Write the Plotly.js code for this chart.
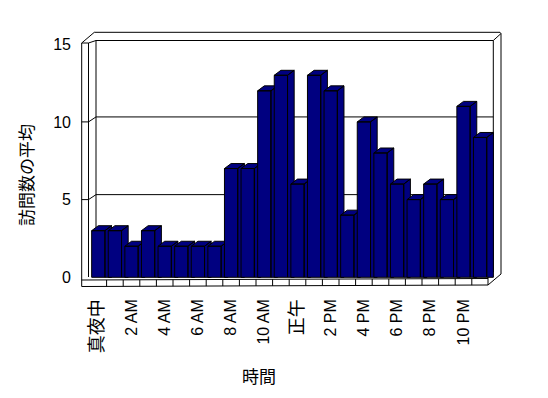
<!DOCTYPE html>
<html>
<head>
<meta charset="utf-8">
<script src="https://cdn.plot.ly/plotly-3.0.1.min.js"></script>
<style>html,body{margin:0;padding:0;background:#fff;}#chart{width:548px;height:398px;}</style>
</head>
<body>
<div id="chart"></div>
<script>
// ---- data ----
const categories = ['真夜中','1 AM','2 AM','3 AM','4 AM','5 AM','6 AM','7 AM','8 AM','9 AM','10 AM','11 AM',
                    '正午','1 PM','2 PM','3 PM','4 PM','5 PM','6 PM','7 PM','8 PM','9 PM','10 PM','11 PM'];
const avgVisits = [3,3,2,3,2,2,2,2,7,7,12,13,6,13,12,4,10,8,6,5,6,5,11,9];
const xTickLabels = ['真夜中','2 AM','4 AM','6 AM','8 AM','10 AM','正午','2 PM','4 PM','6 PM','8 PM','10 PM'];
const yTickVals = [0,5,10,15];
const xTitle = '時間';
const yTitle = '訪問数の平均';

// ---- geometry (pixels) ----
const W = 548, H = 398;
const L = 80, R = 506, T = 30, B = 290;
const pw = R - L, ph = B - T;
const pitch = 16.6, unit = 15.54;
const x0 = -0.5 - (90 - L) / pitch;
const x1 = x0 + pw / pitch;
const y0 = -(B - 277.3) / unit;
const y1 = y0 + ph / unit;
const DX = 0.4, DY = 0.32, HW = 0.4;
const navy = '#000080';
const PX = p => (p - L) / pw;
const PY = p => (B - p) / ph;

const traces = [];
avgVisits.forEach((v, i) => {
  const l = i - HW, r = i + HW;
  const xs = [r, r, r + DX, r + DX, r, null,
              l, l + DX, r + DX, r, l, null,
              l, l, r, r, l];
  const ys = [0, v, v + DY, 0, 0, null,
              v, v + DY, v + DY, v, v, null,
              0, v, v, 0, 0];
  traces.push({
    type: 'scatter', mode: 'lines', x: xs, y: ys,
    fill: 'toself', fillcolor: navy,
    line: {color: '#000', width: 1}, hoverinfo: 'skip', showlegend: false,
    name: categories[i]
  });
});

const shapes = [];
const seg = (a, b, c, d) => shapes.push({type: 'line', xref: 'paper', yref: 'paper',
  x0: PX(a), y0: PY(b), x1: PX(c), y1: PY(d), line: {color: '#000', width: 1}, layer: 'below'});
seg(81.7, 43, 81.7, 286.5);
seg(88.5, 43, 88.5, 277);
seg(81.7, 43, 88.5, 43);
seg(81.7, 43, 94.3, 32.3);
seg(88.5, 43, 96, 40.5);
seg(94.3, 32.3, 500, 32.3);
seg(96, 40.5, 493.3, 40.5);
seg(96, 40.5, 96, 277);
seg(493.3, 40.5, 493.3, 272);
seg(493.3, 40.5, 501, 33.5);
seg(500, 32.3, 501, 33.5);
seg(501, 33.5, 501, 274);
seg(81.7, 280, 488, 278.5);
seg(81.7, 286.5, 488, 285);
seg(488, 272, 488, 285);
seg(488, 285, 501, 274);
// floor category dividers
for (let i = 0; i < categories.length - 1; i++) {
  shapes.push({type: 'line', xref: 'x', yref: 'paper', x0: i + 0.5, x1: i + 0.5,
    y0: PY(280 - (i + 0.5) * 0.06), y1: PY(286.5 - (i + 0.5) * 0.06), line: {color: '#000', width: 1}, layer: 'below'});
}
// grid lines on back wall + ticks on left wall
yTickVals.filter(v => v > 0 && v < 15).forEach(v => {
  shapes.push({type: 'line', xref: 'paper', yref: 'y', x0: PX(96), x1: PX(493.3), y0: v + DY, y1: v + DY, line: {color: '#000', width: 1}, layer: 'below'});
  shapes.push({type: 'line', xref: 'paper', yref: 'y', x0: PX(88.5), x1: PX(96), y0: v, y1: v + DY, line: {color: '#000', width: 1}, layer: 'below'});
  shapes.push({type: 'line', xref: 'paper', yref: 'y', x0: PX(81.7), x1: PX(88.5), y0: v, y1: v, line: {color: '#000', width: 1}, layer: 'below'});
});

const tickVals = xTickLabels.map(t => categories.indexOf(t));
const tickText = xTickLabels.map(t => /[^\x00-\x7F]/.test(t) ? '<span style="font-size:18px">' + t + '</span>' : t);

const layout = {
  width: W, height: H,
  margin: {l: L, r: W - R, t: T, b: H - B, pad: 0},
  paper_bgcolor: '#fff', plot_bgcolor: 'rgba(0,0,0,0)',
  font: {family: 'Liberation Sans, Arial, Noto Sans CJK JP, sans-serif', size: 16, color: '#000'},
  xaxis: {range: [x0, x1], tickvals: tickVals, ticktext: tickText, tickangle: -90,
    showgrid: false, zeroline: false, showline: false, ticks: '', ticklabelstandoff: 5,
    tickfont: {family: 'Liberation Sans, Noto Sans CJK JP, sans-serif', size: 16, color: '#000'}, fixedrange: true},
  yaxis: {range: [y0, y1], tickvals: yTickVals, ticktext: yTickVals.map(String),
    showgrid: false, zeroline: false, showline: false, ticks: '', ticklabelstandoff: 8,
    tickfont: {family: 'Liberation Sans, sans-serif', size: 16, color: '#000'}, fixedrange: true},
  shapes: shapes,
  annotations: [
    {text: yTitle, xref: 'paper', yref: 'paper', x: PX(25), y: PY(175), textangle: -90, showarrow: false,
     xanchor: 'center', yanchor: 'middle', font: {family: 'Noto Sans CJK JP, sans-serif', size: 17, color: '#000'}},
    {text: xTitle, xref: 'paper', yref: 'paper', x: PX(259), y: PY(375), showarrow: false,
     xanchor: 'center', yanchor: 'middle', font: {family: 'Noto Sans CJK JP, sans-serif', size: 17, color: '#000'}}
  ],
  showlegend: false
};

Plotly.newPlot('chart', traces, layout, {staticPlot: true, displayModeBar: false});
</script>
</body>
</html>
